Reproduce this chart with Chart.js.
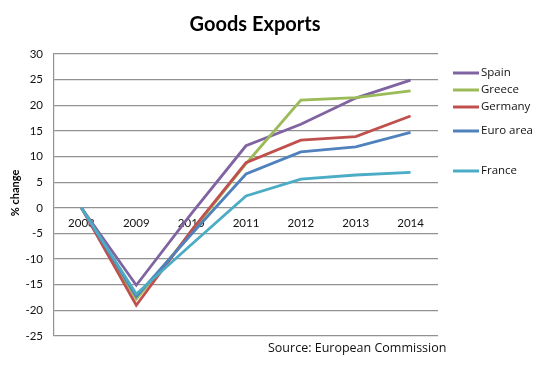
<!DOCTYPE html>
<html>
<head>
<meta charset="utf-8">
<script src="https://cdn.jsdelivr.net/npm/chart.js@4"></script>
<style>
  html, body { margin: 0; padding: 0; background: #fff; }
  #wrap { width: 553px; height: 369px; position: relative; }
</style>
</head>
<body>
<div id="wrap"><canvas id="exportsChart"></canvas></div>
<script>
const years = ["2008", "2009", "2010", "2011", "2012", "2013", "2014"];
const seriesNames = ["Spain", "Greece", "Germany", "Euro area", "France"];
const spain = [0, -15.1, -1.2, 12.1, 16.3, 21.4, 24.9];
const greece = [0, -17.8, -4.8, 8.6, 21.0, 21.5, 22.8];
const germany = [0, -19.0, -4.5, 8.8, 13.2, 13.9, 17.9];
const euroArea = [0, -17.3, -5.2, 6.6, 10.9, 11.9, 14.7];
const france = [0, -16.8, -7.2, 2.3, 5.6, 6.4, 6.9];
const yTicks = [-25, -20, -15, -10, -5, 0, 5, 10, 15, 20, 25, 30];

const colors = ["#8064A2", "#9BBB59", "#C0504D", "#4F81BD", "#4BACC6"];
const legendY = [73, 90, 107, 131, 171];

const decor = {
  id: "decor",
  afterDraw(chart) {
    const c = chart.ctx;
    c.save();
    // title
    c.fillStyle = "#000";
    c.font = "bold 20px Lato, sans-serif";
    c.textAlign = "center";
    c.textBaseline = "middle";
    c.fillText("Goods Exports", 255, 25);
    // y axis title
    c.save();
    c.translate(15, 193);
    c.rotate(-Math.PI / 2);
    c.font = "bold 11px Lato, sans-serif";
    c.fillText("% change", 0, 0);
    c.restore();
    // legend
    c.textAlign = "left";
    c.font = "11.5px 'Open Sans', sans-serif";
    chart.data.datasets.forEach((ds, i) => {
      const y = legendY[i];
      c.strokeStyle = ds.borderColor;
      c.lineWidth = 3;
      c.beginPath();
      c.moveTo(453, y);
      c.lineTo(479, y);
      c.stroke();
      c.fillStyle = "#111";
      c.fillText(ds.label, 481, y);
    });
    // source
    c.font = "12.5px 'Open Sans', sans-serif";
    c.fillStyle = "#111";
    c.fillText("Source: European Commission", 268, 348);
    c.restore();
  },
};

const allData = [spain, greece, germany, euroArea, france];

new Chart(document.getElementById("exportsChart"), {
  type: "line",
  data: {
    labels: years,
    datasets: seriesNames.map((name, i) => ({
      label: name,
      data: allData[i],
      borderColor: colors[i],
      backgroundColor: colors[i],
      borderWidth: 2.8,
      pointRadius: 0,
      tension: 0,
      order: seriesNames.length - i,
    })),
  },
  options: {
    responsive: true,
    maintainAspectRatio: false,
    animation: false,
    layout: { padding: { left: 0, right: 115, top: 54, bottom: 33 } },
    plugins: {
      legend: { display: false },
      title: { display: false },
      tooltip: { enabled: false },
    },
    scales: {
      x: {
        type: "category",
        position: { y: 0 },
        offset: true,
        grid: { display: false, drawTicks: false },
        border: { display: false },
        ticks: {
          color: "#111",
          padding: 9,
          maxRotation: 0,
          font: { family: "Lato, sans-serif", size: 11.5 },
        },
      },
      y: {
        min: -25,
        max: 30,
        afterBuildTicks(scale) {
          scale.ticks = yTicks.map((v) => ({ value: v }));
        },
        afterFit(scale) {
          scale.width = 54;
        },
        grid: { color: "#929292", lineWidth: 1.2, drawTicks: false },
        border: { color: "#929292", width: 1.2 },
        ticks: {
          color: "#111",
          padding: 11,
          font: { family: "Lato, sans-serif", size: 11.5 },
        },
      },
    },
  },
  plugins: [decor],
});
</script>
</body>
</html>
